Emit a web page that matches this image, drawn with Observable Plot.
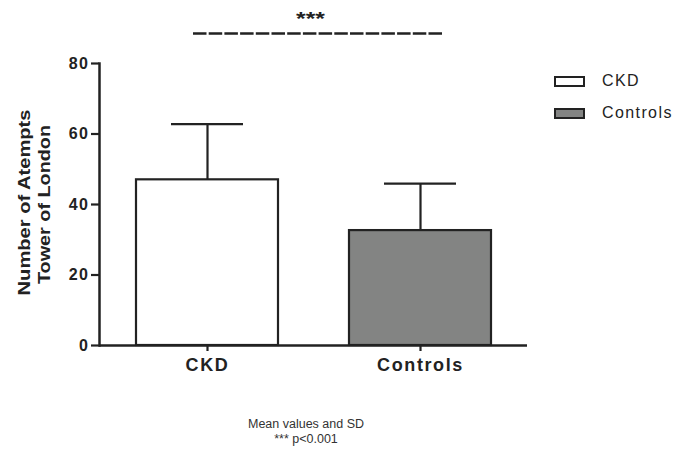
<!DOCTYPE html>
<html>
<head>
<meta charset="utf-8">
<script src="https://cdn.jsdelivr.net/npm/d3@7"></script>
<script src="https://cdn.jsdelivr.net/npm/@observablehq/plot@0.6"></script>
<style>
  body { margin: 0; background: #fff; font-family: "Liberation Sans", Arial, sans-serif; }
  #wrap { position: relative; width: 679px; height: 455px; }
  .leg { position: absolute; display: flex; align-items: center; font-size: 16px; letter-spacing: 1.4px; color: #222; }
  .sw { width: 27px; height: 7px; border: 2.5px solid #222; margin-right: 17px; }
  .cap { position: absolute; left: 0; width: 612px; text-align: center; font-size: 12.5px; color: #333; line-height: 15px; }
  g[aria-label="y-axis tick label"] { letter-spacing: 1.5px; }
  g[aria-label="x-axis tick label"] { letter-spacing: 1.6px; }
</style>
</head>
<body>
<div id="wrap"></div>
<script>
const groups = ["CKD", "Controls"];
const means = [47, 32.6];
const sds = [15.8, 13.3];
const fills = ["#ffffff", "#838483"];
const yTicks = [0, 20, 40, 60, 80];
const sigLevel = 88.5;
const sigText = "***";
const yLabelLines = ["Number of Atempts", "Tower of London"];
const captionLines = ["Mean values and SD", "*** p<0.001"];

const data = groups.map((g, i) => ({group: g, mean: means[i], top: means[i] + sds[i], fill: fills[i]}));

const ink = "#222";
const plot = Plot.plot({
  width: 679,
  height: 455,
  marginLeft: 99,
  marginRight: 152,
  marginTop: 63,
  marginBottom: 110,
  style: {fontFamily: "'Liberation Sans', Arial, sans-serif", color: ink, background: "#fff"},
  x: {domain: groups, paddingInner: 0.335, paddingOuter: 0.17},
  y: {domain: [0, 80]},
  marks: [
    Plot.ruleX(data, {x: "group", y1: "mean", y2: "top", stroke: ink, strokeWidth: 2.2}),
    Plot.tickY(data, {x: "group", y: "top", stroke: ink, strokeWidth: 2.2, insetLeft: 35, insetRight: 35}),
    Plot.barY(data, {x: "group", y: "mean", fill: "fill", stroke: ink, strokeWidth: 2.2}),
    Plot.ruleY([0], {stroke: ink, strokeWidth: 2.5}),
    Plot.frame({anchor: "left", stroke: ink, strokeWidth: 2.5}),
    Plot.axisY({ticks: yTicks, tickSize: 8, tickPadding: 2, strokeWidth: 2.2, fontSize: 16, fontWeight: "bold", label: null}),
    Plot.axisX({tickSize: 6, tickPadding: 7, strokeWidth: 2.2, fontSize: 18, fontWeight: "bold", label: null}),
    Plot.text([yLabelLines[0]], {frameAnchor: "left", textAnchor: "middle", lineAnchor: "middle", rotate: -90, dx: -75, dy: -2, fontSize: 16.5, fontWeight: "bold", fill: ink}),
    Plot.text([yLabelLines[1]], {frameAnchor: "left", textAnchor: "middle", lineAnchor: "middle", rotate: -90, dx: -55, dy: 0, fontSize: 16.5, fontWeight: "bold", fill: ink}),
    Plot.ruleY([sigLevel], {stroke: ink, strokeWidth: 2.5, insetLeft: 94, insetRight: 84, strokeDasharray: "13.5,2.2"}),
    Plot.text([sigText], {frameAnchor: "top", dy: -52, dx: -3, fontSize: 19, fontWeight: "bold", fill: ink})
  ]
});

function stretch(content, sx) {
  plot.querySelectorAll("text").forEach(el => {
    if (el.textContent.trim() !== content) return;
    const t = el.getAttribute("transform") || "";
    el.setAttribute("transform", (t + ` scale(${sx},1)`).trim());
  });
}
stretch(yLabelLines[0], 1.22);
stretch(yLabelLines[1], 1.2);
stretch(sigText, 1.3);

const wrap = document.getElementById("wrap");
wrap.appendChild(plot);

groups.forEach((g, i) => {
  const d = document.createElement("div");
  d.className = "leg";
  d.style.left = "554px";
  d.style.top = (72 + i * 32) + "px";
  d.innerHTML = `<div class="sw" style="background:${fills[i]}"></div><span>${g}</span>`;
  wrap.appendChild(d);
});
captionLines.forEach((t, i) => {
  const c = document.createElement("div");
  c.className = "cap";
  c.style.top = (417 + i * 15) + "px";
  c.textContent = t;
  wrap.appendChild(c);
});
</script>
</body>
</html>
